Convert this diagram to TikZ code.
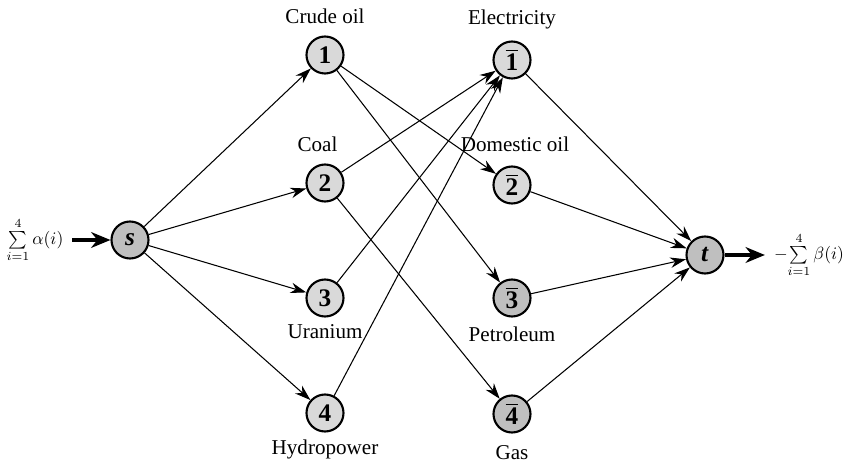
\documentclass[tikz,border=0pt]{standalone}
\usepackage{amsmath}
\usepackage{fontspec}
\setmainfont{Liberation Serif}
\usetikzlibrary{arrows.meta, positioning}

\begin{document}
\begin{tikzpicture}[
    >={Stealth[length=9pt, width=6pt]},
    every node/.style={font=\large},
    vert/.style={circle, draw, line width=1.2pt, fill=gray!30,
                 minimum size=0.74cm, inner sep=0pt, font=\Large\bfseries},
    dkvert/.style={vert, fill=gray!50},
    lbl/.style={font=\large},
    sumlbl/.style={font=\normalsize, inner sep=1pt},
    arr/.style={->, line width=0.6pt},
    bigarr/.style={-{Stealth[length=11pt, width=9pt]}, line width=1.8pt},
]
\useasboundingbox (0,0) rectangle (16.86,9.3);

\node[dkvert] (s)  at (2.6, 4.5)   {\textit{s}};
\node[vert]   (c1) at (6.5, 8.2)   {1};
\node[vert]   (c2) at (6.5, 5.64)  {2};
\node[vert]   (c3) at (6.5, 3.34)  {3};
\node[vert]   (c4) at (6.5, 1.04)  {4};
\node[vert]   (d1) at (10.24, 8.1) {$\overline{\mathbf{1}}$};
\node[vert]   (d2) at (10.24, 5.6) {$\overline{\mathbf{2}}$};
\node[dkvert] (d3) at (10.24, 3.34) {$\overline{\mathbf{3}}$};
\node[dkvert] (d4) at (10.24, 1.02) {$\overline{\mathbf{4}}$};
\node[dkvert] (t)  at (14.1, 4.2)  {\textit{t}};

% supply and demand names
\node[lbl] (crude) at (6.5, 8.98)  {Crude oil};
\node[lbl] (coal)  at (6.35, 6.42) {Coal};
\node[lbl] (uran)  at (6.5, 2.66)  {Uranium};
\node[lbl] (hydro) at (6.5, 0.32)  {Hydropower};
\node[lbl] (elec)  at (10.24, 8.92) {Electricity};
\node[lbl] (domo)  at (10.3, 6.42) {Domestic oil};
\node[lbl] (petro) at (10.24, 2.62) {Petroleum};
\node[lbl] (gas)   at (10.24, 0.24) {Gas};

\node[sumlbl] (supply) at (0.7, 4.5)  {$\sum\limits_{i=1}^{4}\alpha(i)$};
\node[sumlbl] (demand) at (16.18, 4.2) {$-\!\sum\limits_{i=1}^{4}\beta(i)$};

\draw[bigarr] ([xshift=4pt]supply.east) -- (s);
\draw[bigarr] (t) -- ([xshift=-4pt]demand.west);

\foreach \n in {c1,c2,c3,c4}
  \draw[arr] (s) -- (\n);
\draw[arr] (c1) -- (d2);
\draw[arr] (c1) -- (d3);
\draw[arr] (c2) -- (d1);
\draw[arr] (c2) -- (d4);
\draw[arr] (c3) -- (d1);
\draw[arr] (c4) -- (d1);
\foreach \n in {d1,d2,d3,d4}
  \draw[arr] (\n) -- (t);
\end{tikzpicture}
\end{document}
